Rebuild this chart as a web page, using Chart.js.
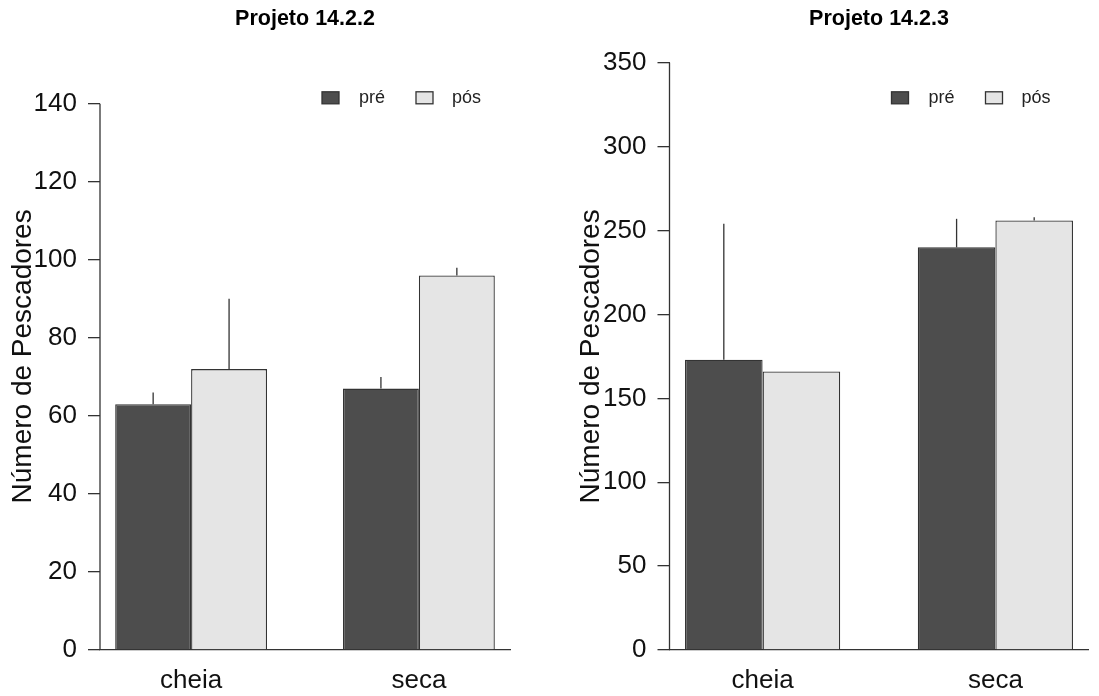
<!DOCTYPE html>
<html>
<head>
<meta charset="utf-8">
<script src="https://cdn.jsdelivr.net/npm/chart.js@4.4.1/dist/chart.umd.min.js"></script>
<style>
  html, body { margin: 0; padding: 0; background: #fff; }
  .panel { position: absolute; top: 0; }
</style>
</head>
<body>
<div class="panel" style="left:0"><canvas id="chart1" width="550" height="696"></canvas></div>
<div class="panel" style="left:550px"><canvas id="chart2" width="549" height="696"></canvas></div>
<script>
const categories = ["cheia", "seca"];
const seriesNames = ["pré", "pós"];

// Projeto 14.2.2
const pre1 = [63, 67];
const pos1 = [72, 96];
const preErr1 = [3, 3];
const posErr1 = [18, 2];
const yTicks1 = [0, 20, 40, 60, 80, 100, 120, 140];

// Projeto 14.2.3
const pre2 = [173, 240];
const pos2 = [166, 256];
const preErr2 = [81, 17];
const posErr2 = [0, 2];
const yTicks2 = [0, 50, 100, 150, 200, 250, 300, 350];

const FONT = "'Liberation Sans', Arial, sans-serif";
const DARK = "#4d4d4d";
const LIGHT = "#e5e5e5";
const LINE = "#333";

// barplot-style group centres: 2, 5 (bar width 1, gap 1)
const groupX = i => 2 + 3 * i;
const toPoints = vals => vals.map((v, i) => ({ x: groupX(i), y: v }));

const errorBars = {
  id: "errorBars",
  afterDatasetsDraw(chart) {
    const ctx = chart.ctx, y = chart.scales.y;
    chart.data.datasets.forEach((ds, i) => {
      chart.getDatasetMeta(i).data.forEach((bar, j) => {
        const e = ds.errors[j];
        if (!e) return;
        ctx.save();
        ctx.strokeStyle = LINE;
        ctx.lineWidth = 1.3;
        ctx.beginPath();
        ctx.moveTo(bar.x, bar.y);
        ctx.lineTo(bar.x, y.getPixelForValue(ds.data[j].y + e));
        ctx.stroke();
        ctx.restore();
      });
    });
  }
};

const yAxisLine = {
  id: "yAxisLine",
  afterDraw(chart) {
    const ctx = chart.ctx, y = chart.scales.y;
    const ticks = y.ticks;
    const x = chart.chartArea.left;
    ctx.save();
    ctx.strokeStyle = LINE;
    ctx.lineWidth = 1.3;
    ctx.beginPath();
    ctx.moveTo(x, y.getPixelForValue(ticks[0].value));
    ctx.lineTo(x, y.getPixelForValue(ticks[ticks.length - 1].value));
    ctx.stroke();
    ctx.restore();
  }
};

const boxLegend = {
  id: "boxLegend",
  afterDraw(chart) {
    const ctx = chart.ctx;
    const x0 = chart.chartArea.left + 222;
    const yc = chart.chartArea.top + 35;
    const offsets = [[0, 37], [94, 130]];
    ctx.save();
    ctx.font = "18px " + FONT;
    ctx.textBaseline = "middle";
    chart.data.datasets.forEach((ds, i) => {
      const [bx, tx] = offsets[i];
      ctx.fillStyle = ds.backgroundColor;
      ctx.strokeStyle = LINE;
      ctx.lineWidth = 1.3;
      ctx.fillRect(x0 + bx, yc - 6, 17, 12);
      ctx.strokeRect(x0 + bx, yc - 6, 17, 12);
      ctx.fillStyle = "#222";
      ctx.fillText(ds.label, x0 + tx, yc);
    });
    ctx.restore();
  }
};

function makeChart(id, title, pre, pos, preErr, posErr, yTicks, yMax, axisWidth, titlePad, padRight) {
  return new Chart(document.getElementById(id), {
    type: "bar",
    data: {
      datasets: [
        { label: seriesNames[0], data: toPoints(pre), errors: preErr, backgroundColor: DARK, borderColor: LINE, borderWidth: 1.3 },
        { label: seriesNames[1], data: toPoints(pos), errors: posErr, backgroundColor: LIGHT, borderColor: LINE, borderWidth: 1.3 }
      ]
    },
    options: {
      responsive: false,
      animation: false,
      devicePixelRatio: 1,
      categoryPercentage: 2 / 3,
      barPercentage: 1,
      layout: { padding: { left: 0, right: padRight, top: 0, bottom: 0 } },
      plugins: {
        legend: { display: false },
        tooltip: { enabled: false },
        title: {
          display: true,
          fullSize: false,
          text: title,
          color: "#000",
          font: { family: FONT, size: 21.5, weight: "bold" },
          padding: { top: 6, bottom: 31 }
        }
      },
      scales: {
        x: {
          type: "linear",
          offset: false,
          min: 0.8,
          max: 6.2,
          afterBuildTicks: s => { s.ticks = categories.map((c, i) => ({ value: groupX(i) })); },
          afterFit: s => { s.height = 46; },
          grid: { display: false, drawTicks: false, offset: false },
          border: { display: true, color: LINE, width: 1.3 },
          ticks: {
            color: "#111",
            padding: 15,
            font: { family: FONT, size: 26 },
            callback: (v, i) => categories[i]
          }
        },
        y: {
          min: 0,
          max: yMax,
          afterBuildTicks: s => { s.ticks = yTicks.map(v => ({ value: v })); },
          afterFit: s => { s.width = axisWidth; },
          grid: { drawOnChartArea: false, drawTicks: true, tickLength: 12, color: LINE, lineWidth: 1.3 },
          border: { display: false },
          ticks: { color: "#111", padding: 11, font: { family: FONT, size: 26 } },
          title: {
            display: true,
            text: "Número de Pescadores",
            color: "#111",
            font: { family: FONT, size: 28 },
            padding: { top: titlePad, bottom: 0 }
          }
        }
      }
    },
    plugins: [errorBars, yAxisLine, boxLegend]
  });
}

makeChart("chart1", "Projeto 14.2.2", pre1, pos1, preErr1, posErr1, yTicks1, 150.5, 100, 6, 40);
makeChart("chart2", "Projeto 14.2.3", pre2, pos2, preErr2, posErr2, yTicks2, 350, 119.5, 24, 10.5);
</script>
</body>
</html>
